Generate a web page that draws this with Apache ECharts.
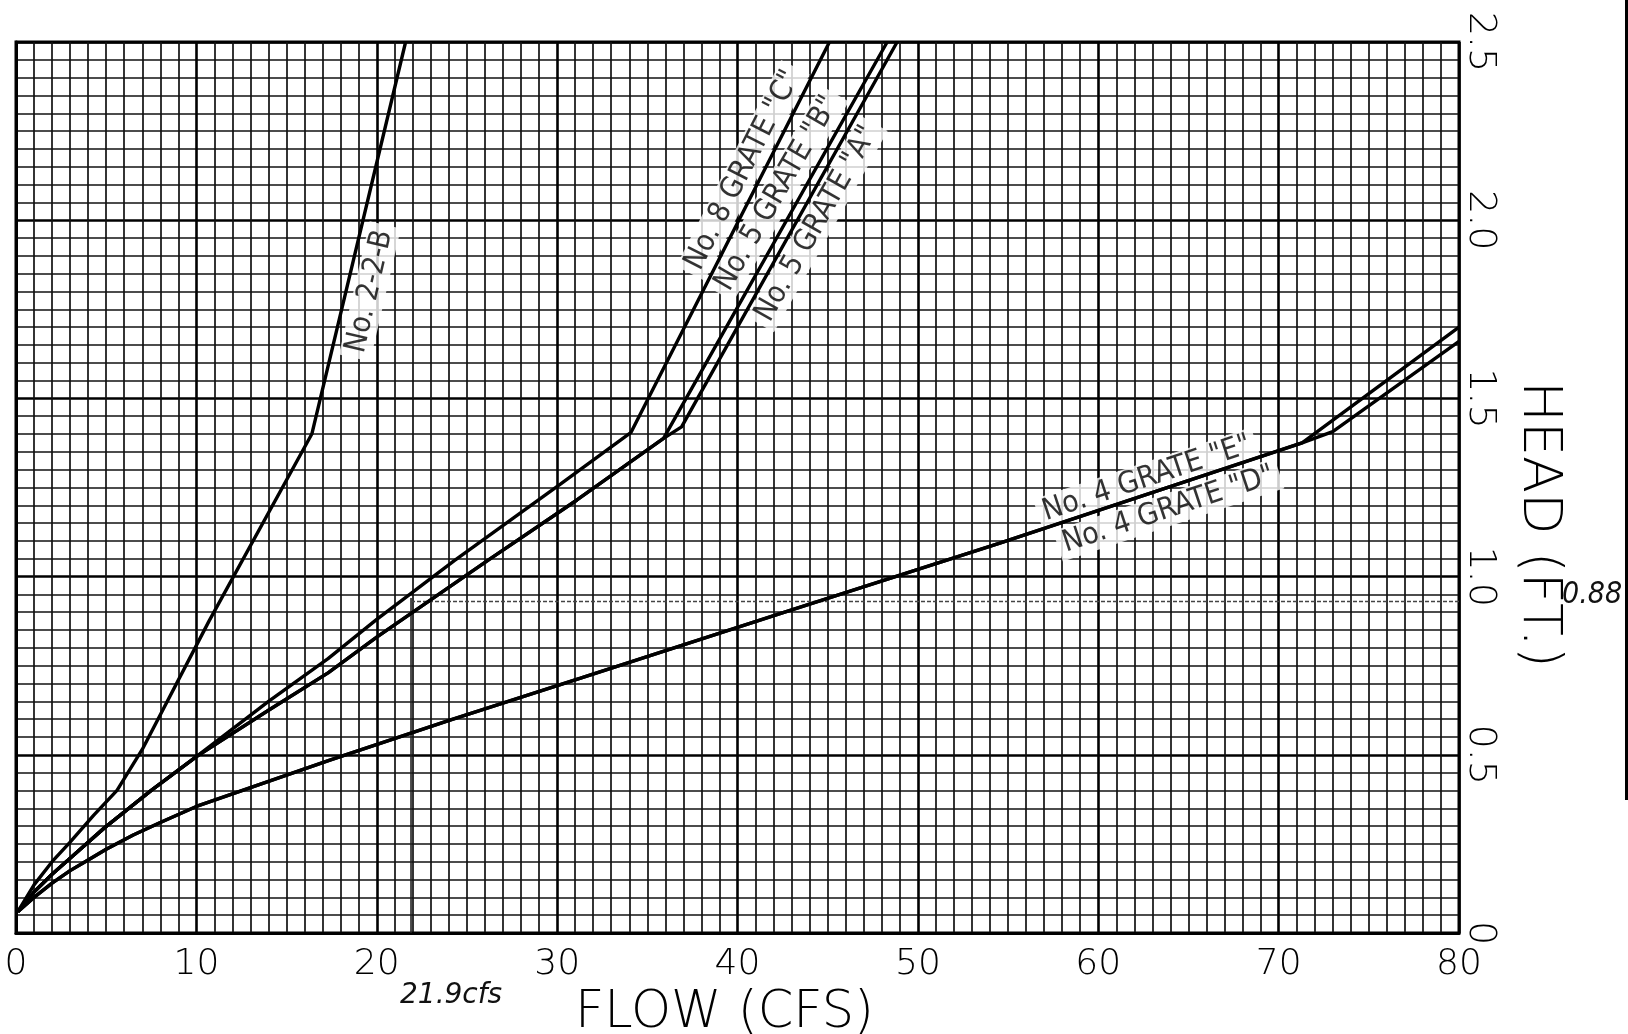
<!DOCTYPE html>
<html><head><meta charset="utf-8">
<script src="https://cdn.jsdelivr.net/npm/echarts@6/dist/echarts.min.js"></script>
<style>html,body{margin:0;padding:0;background:#fff}#c{width:1628px;height:1034px}</style>
</head><body><div id="c"></div>
<script>
// Axis tick labels
const flowTickLabels = ['0','10','20','30','40','50','60','70','80'];
const headTickLabels = {'0':'0','0.5':'0.5','1':'1.0','1.5':'1.5','2':'2.0','2.5':'2.5'};

// Curves: [flow (cfs), head (ft)]
const no22B = [[0.1,0.06],[1,0.135],[2,0.2],[3,0.255],[4.3,0.33],[5.6,0.4],[7,0.515],[10.7,0.875],[16.4,1.40],[21.6,2.5]];
const no8C  = [[0.1,0.06],[1,0.115],[2,0.165],[3,0.21],[4.9,0.295],[7.5,0.4],[10,0.495],[14,0.65],[17.3,0.77],[20,0.88],[24.3,1.045],[30.2,1.26],[34.1,1.405],[45.1,2.5]];
const no5B  = [[0.1,0.06],[1,0.115],[2,0.165],[3,0.21],[4.9,0.295],[7.5,0.4],[10,0.495],[14,0.625],[17.3,0.73],[20,0.83],[26.2,1.047],[31.1,1.215],[35.9,1.388],[48.3,2.5]];
const no5A  = [[0.1,0.06],[1,0.115],[2,0.165],[3,0.21],[4.9,0.295],[7.5,0.4],[10,0.495],[14,0.625],[17.3,0.73],[20,0.83],[26.2,1.047],[31.1,1.215],[35.9,1.388],[36.9,1.42],[48.85,2.5]];
const no4E  = [[0.1,0.06],[1,0.1],[2,0.14],[3,0.175],[4,0.205],[5,0.235],[6.5,0.275],[8,0.31],[10,0.355],[17.4,0.485],[24.1,0.598],[31.3,0.715],[42.4,0.897],[54.5,1.093],[71.3,1.375],[80,1.70]];
const no4D  = [[0.1,0.06],[1,0.1],[2,0.14],[3,0.175],[4,0.205],[5,0.235],[6.5,0.275],[8,0.31],[10,0.355],[17.4,0.485],[24.1,0.598],[31.3,0.715],[42.4,0.897],[54.5,1.093],[71.3,1.375],[73,1.407],[80,1.66]];

// Curve labels: text, anchor flow, anchor head, angle (deg)
const labelTexts  = ['No. 2-2-B','No. 8 GRATE "C"','No. 5 GRATE "B"','No. 5 GRATE "A"','No. 4 GRATE "E"','No. 4 GRATE "D"'];
const labelFlows  = [19.62, 40.3, 42.2, 44.4, 62.7, 63.9];
const labelHeads  = [1.80, 2.14, 2.075, 1.99, 1.275, 1.188];
const labelAngles = [77, 63, 60, 60.5, 18.3, 18.3];

// Hand-drawn reading lines
const readFlow = 21.9;
const readHead = 0.93;
const readVertical = [[readFlow,0],[readFlow,0.94]];
const readHorizontal = [[readFlow,readHead],[80,readHead]];

const LABEL_FONT = "'DejaVu Sans Condensed', 'DejaVu Sans', sans-serif";
const THIN_FONT = "'DejaVu Sans', sans-serif";
const chart = echarts.init(document.getElementById('c'), null, {renderer:'canvas'});

const curveSeries = (data) => ({
  type:'line', data, showSymbol:false, symbol:'none', z:5, silent:true,
  lineStyle:{color:'#000', width:3.4}, animation:false
});

chart.setOption({
  animation:false,
  backgroundColor:'#fff',
  grid:{left:16, right:169, top:42, bottom:101, containLabel:false, outerBoundsMode:'none',
        show:true, borderColor:'#000', borderWidth:3, backgroundColor:'transparent'},
  xAxis:{
    type:'value', min:0, max:80, interval:10,
    axisLine:{show:true, lineStyle:{color:'#000', width:3}},
    axisTick:{show:false},
    axisLabel:{fontFamily:THIN_FONT, fontWeight:200, fontSize:36, color:'#000', margin:14,
      formatter:(v)=>flowTickLabels[Math.round(v/10)]},
    splitLine:{show:true, lineStyle:{color:'#000', width:2.6}},
    minorTick:{show:false, splitNumber:10},
    minorSplitLine:{show:true, lineStyle:{color:'#111', width:1.7}},
    name:'FLOW (CFS)', nameLocation:'middle', nameGap:52,
    nameTextStyle:{fontFamily:THIN_FONT, fontWeight:200, fontSize:51, color:'#000', padding:[0,26,0,0]}
  },
  yAxis:{
    type:'value', min:0, max:2.5, interval:0.5, position:'right',
    axisLine:{show:true, lineStyle:{color:'#000', width:3}},
    axisTick:{show:false},
    axisLabel:{fontFamily:THIN_FONT, fontWeight:200, fontSize:38, color:'#000', margin:2, rotate:-90,
      formatter:(v)=>headTickLabels[String(Math.round(v*10)/10)]},
    splitLine:{show:true, lineStyle:{color:'#000', width:2.6}},
    minorTick:{show:false, splitNumber:10},
    minorSplitLine:{show:true, lineStyle:{color:'#111', width:1.7}},
    name:'HEAD (FT.)', nameLocation:'middle', nameGap:52, nameRotate:-90,
    nameTextStyle:{fontFamily:THIN_FONT, fontWeight:200, fontSize:54, color:'#000', padding:[0,0,0,74]}
  },
  series:[
    {
      type:'scatter', z:2, silent:true, symbolSize:1,
      itemStyle:{color:'rgba(0,0,0,0)'},
      data: labelTexts.map((t,i)=>({value:[labelFlows[i],labelHeads[i]], label:{formatter:t, rotate:labelAngles[i]}})),
      label:{show:true, position:'inside', align:'center', verticalAlign:'middle',
        fontFamily:LABEL_FONT, fontSize:30, color:'#000', backgroundColor:'#fff', padding:[1,6]}
    },
    curveSeries(no22B),
    curveSeries(no8C),
    curveSeries(no5B),
    curveSeries(no5A),
    curveSeries(no4E),
    curveSeries(no4D),
    {type:'line', data:readVertical, showSymbol:false, symbol:'none', z:4, silent:true, lineStyle:{color:'#222', width:1.6}},
    {type:'line', data:readHorizontal, showSymbol:false, symbol:'none', z:4, silent:true, lineStyle:{color:'#444', width:1.4, type:[4,2]}}
  ],
  graphic:[
    {type:'text', left:400, top:982, style:{text:'21.9cfs', fontFamily:THIN_FONT, fontStyle:'italic', fontSize:28, fill:'#111'}},
    {type:'text', left:1562, top:580, style:{text:'0.88', fontFamily:LABEL_FONT, fontStyle:'italic', fontSize:30, fill:'#111'}},
    {type:'line', shape:{x1:1626.5, y1:0, x2:1626.5, y2:800}, style:{stroke:'#000', lineWidth:3}}
  ]
});
</script></body></html>
